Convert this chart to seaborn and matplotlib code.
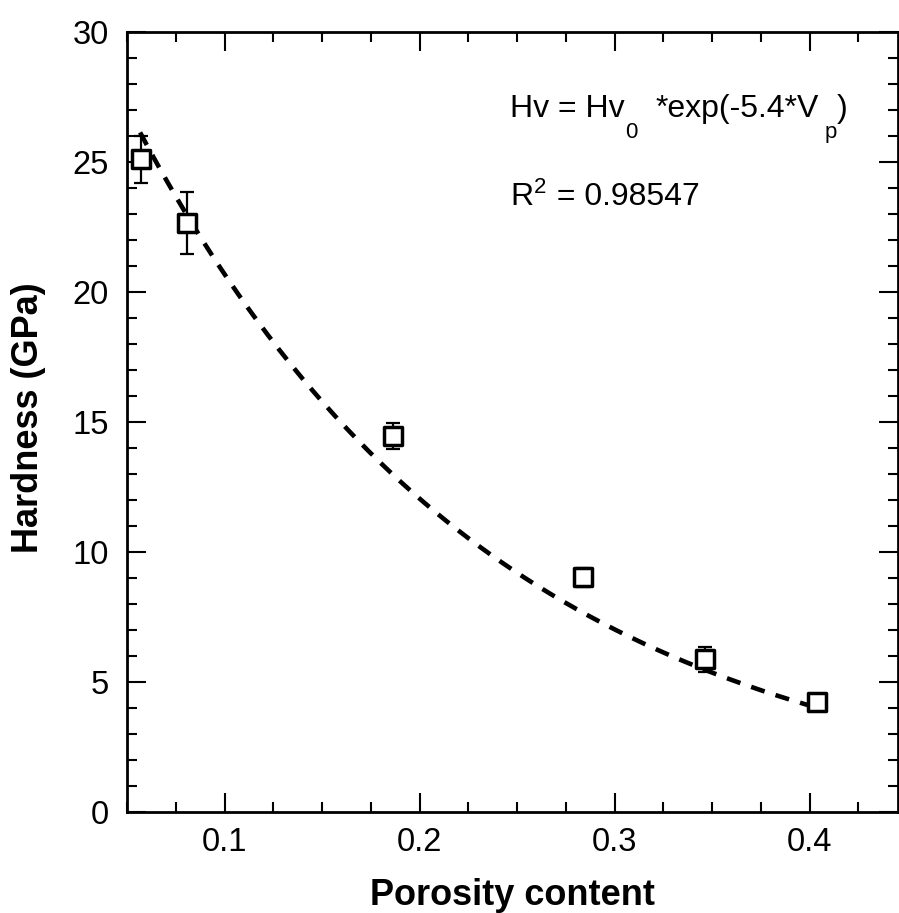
import numpy as np
import pandas as pd
import matplotlib
matplotlib.use("Agg")
import matplotlib.pyplot as plt
import seaborn as sns
from matplotlib.ticker import MultipleLocator

# ---- data ----
porosity = [0.0572, 0.0808, 0.1864, 0.2838, 0.3464, 0.4038]
hardness = [25.1, 22.65, 14.46, 9.02, 5.88, 4.23]
hardness_err = [0.9, 1.2, 0.5, 0.38, 0.48, 0.2]

# fitted model shown on the chart: Hv = Hv0 * exp(-5.4 * Vp)
HV0 = 35.5
K_FIT = 5.4
fit_x_range = [0.0567, 0.400]

x_ticks = [0.1, 0.2, 0.3, 0.4]
y_ticks = [0, 5, 10, 15, 20, 25, 30]

sns.set_style("ticks")
plt.rcParams["font.family"] = ["Liberation Sans", "DejaVu Sans"]
plt.rcParams["text.color"] = "black"
plt.rcParams["axes.labelcolor"] = "black"

W, H = 899, 913
fig = plt.figure(figsize=(W / 100, H / 100), dpi=100)
L, R, T, B = 127, 898, 32, 812
ax = fig.add_axes([L / W, (H - B) / H, (R - L) / W, (B - T) / H])

df = pd.DataFrame({"porosity": porosity, "hardness": hardness, "err": hardness_err})

# fit curve
xf = np.linspace(fit_x_range[0], fit_x_range[1], 300)
fit_df = pd.DataFrame({"x": xf, "y": HV0 * np.exp(-K_FIT * xf)})
sns.lineplot(data=fit_df, x="x", y="y", ax=ax, color="black", linewidth=3.3,
             dashes=False, zorder=2)
ax.lines[-1].set_dashes((3.1, 2.5))

# error bars
ax.errorbar(df["porosity"], df["hardness"], yerr=df["err"], fmt="none",
            ecolor="black", elinewidth=1.6, capsize=5.3, capthick=1.6, zorder=3)

# markers
sns.scatterplot(data=df, x="porosity", y="hardness", ax=ax, marker="s", s=150,
                facecolor="white", edgecolor="black", linewidth=2.5, zorder=4)

ax.set_xlim(0.05, 0.05 + (R - L) / 1950)
ax.set_ylim(0, 30)
ax.set_xticks(x_ticks)
ax.set_xticklabels([f"{v:.1f}" for v in x_ticks])
ax.set_yticks(y_ticks)
ax.set_yticklabels([str(v) for v in y_ticks])
ax.xaxis.set_minor_locator(MultipleLocator(0.025))
ax.yaxis.set_minor_locator(MultipleLocator(1))

for s in ax.spines.values():
    s.set_linewidth(2.0)
    s.set_color("black")

ax.tick_params(which="both", direction="in", top=True, right=True,
               width=1.5, colors="black", labelsize=23.5)
ax.tick_params(which="major", length=14)
ax.tick_params(which="minor", length=7.5)
ax.tick_params(axis="x", which="major", pad=11)
ax.tick_params(axis="y", which="major", pad=13)

ax.set_xlabel("Porosity content", fontsize=26, fontweight="bold", va="center")
ax.set_ylabel("Hardness (GPa)", fontsize=26, fontweight="bold", va="center")
ax.xaxis.set_label_coords(0.5, (B - 895) / (B - T))
ax.yaxis.set_label_coords((29 - L) / (R - L), 0.506)

# annotation built from pieces so sub/superscripts sit like the original
FS, FSS = 23, 16
tx = (510 - L) / (R - L)
t1 = ax.text(tx, (B - 117) / (B - T), "Hv = Hv", transform=ax.transAxes,
             fontsize=FS, va="baseline", ha="left")
t2 = ax.annotate("0", xy=(1, 0), xycoords=(t1, t1), xytext=(0.5, -13.5),
                 textcoords="offset points", fontsize=FSS, va="bottom", ha="left")
t3 = ax.annotate("*exp(-5.4*V", xy=(1, 0), xycoords=(t2, t1), xytext=(13, 0),
                 textcoords="offset points", fontsize=FS, va="bottom", ha="left")
t4 = ax.annotate("p", xy=(1, 0), xycoords=(t3, t1), xytext=(4, -13.5),
                 textcoords="offset points", fontsize=FSS, va="bottom", ha="left")
t5 = ax.annotate(")", xy=(1, 0), xycoords=(t4, t1), xytext=(0, 0),
                 textcoords="offset points", fontsize=FS, va="bottom", ha="left")

r1 = ax.text(tx, (B - 205) / (B - T), "R", transform=ax.transAxes,
             fontsize=FS, va="baseline", ha="left")
r2 = ax.annotate("2", xy=(1, 0), xycoords=(r1, r1), xytext=(0.5, 10),
                 textcoords="offset points", fontsize=FSS, va="bottom", ha="left")
r3 = ax.annotate(" = 0.98547", xy=(1, 0), xycoords=(r2, r1), xytext=(1, 0),
                 textcoords="offset points", fontsize=FS, va="bottom", ha="left")

fig.savefig("out.png", dpi=100)
